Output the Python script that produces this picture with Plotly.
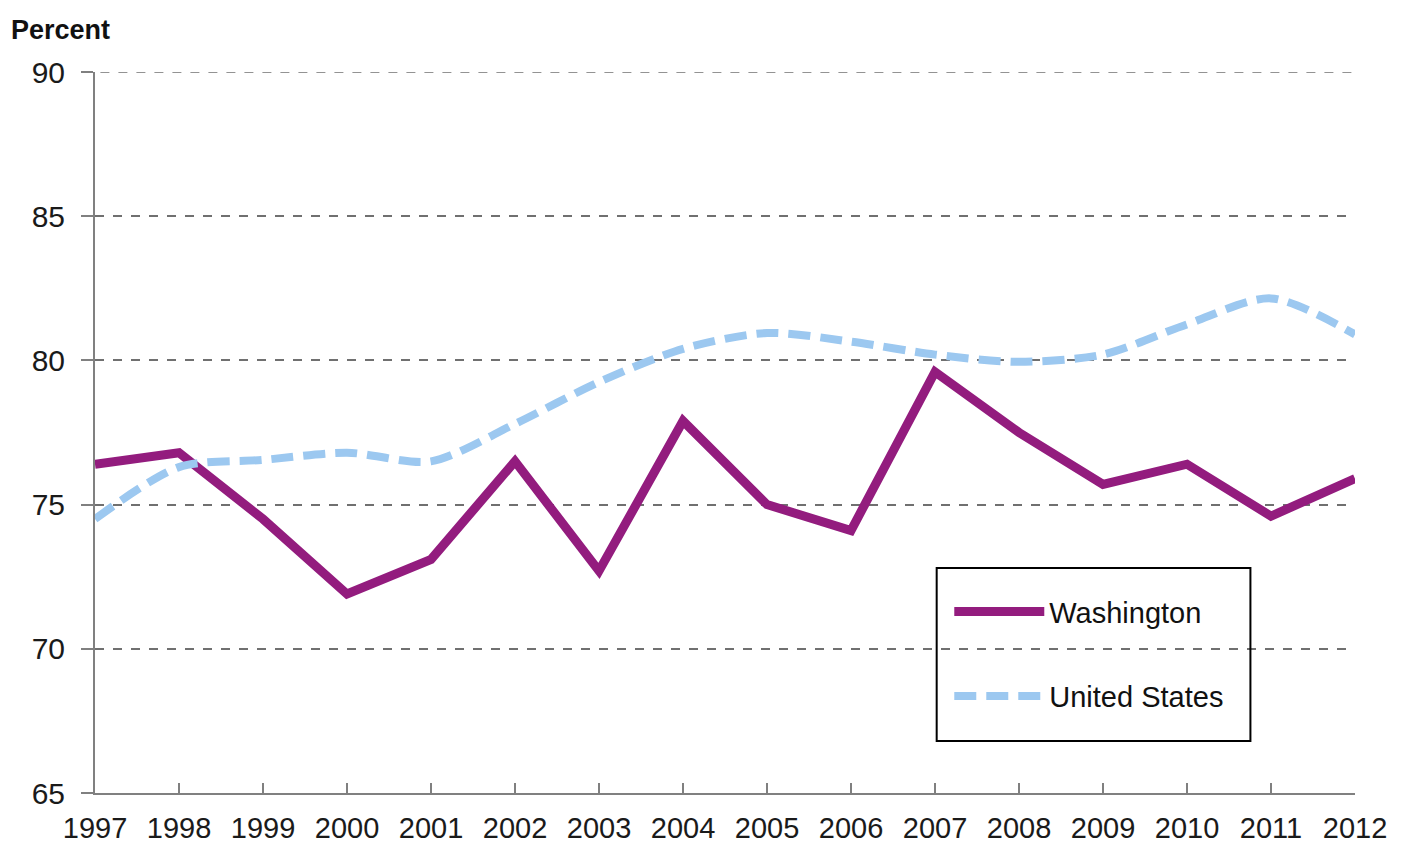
import plotly.graph_objects as go

years = list(range(1997, 2013))
washington = [76.4, 76.8, 74.5, 71.9, 73.1, 76.5, 72.7, 77.9, 75.0, 74.1, 79.6, 77.5, 75.7, 76.4, 74.6, 75.9]
united_states = [74.5, 76.3, 76.55, 76.8, 76.5, 77.8, 79.25, 80.4, 80.95, 80.65, 80.2, 79.95, 80.2, 81.25, 82.15, 80.9]
y_ticks = [65, 70, 75, 80, 85, 90]

FONT = "Liberation Sans"

fig = go.Figure()
fig.add_trace(go.Scatter(
    x=years, y=washington, mode="lines", name="Washington",
    line=dict(color="#931C7E", width=9), legendgroup="wa",
))
fig.add_trace(go.Scatter(
    x=years, y=united_states, mode="lines", name="United States",
    line=dict(color="#9CC8F0", width=8, dash="22px,10px", shape="spline", smoothing=0.8),
    legendgroup="us",
))

fig.update_layout(
    width=1403, height=843,
    margin=dict(l=87, r=56, t=64, b=58, autoexpand=False),
    paper_bgcolor="white", plot_bgcolor="white",
    font=dict(family=FONT, color="#1a1a1a"),
    showlegend=True,
    legend=dict(
        x=0.678, y=0.287, xanchor="left", yanchor="top",
        bgcolor="rgba(0,0,0,0)", borderwidth=0,
        font=dict(family=FONT, size=29, color="#111"),
        traceorder="grouped", tracegroupgap=44, itemwidth=90,
    ),
    shapes=[
        dict(
            type="line", xref="paper", yref="y",
            x0=-0.01, x1=1, y0=y_ticks[-1], y1=y_ticks[-1],
            line=dict(color="#707070", width=1.5, dash="dash"), layer="below",
        ),
        dict(
            type="rect", xref="paper", yref="paper",
            x0=0.668, x1=0.917, y0=0.072, y1=0.312,
            line=dict(color="black", width=2), fillcolor="rgba(0,0,0,0)", layer="above",
        ),
    ],
    annotations=[dict(
        text="<b>Percent</b>", xref="paper", yref="paper",
        x=-0.068, y=1.035, xanchor="left", yanchor="bottom", showarrow=False,
        font=dict(family=FONT, size=27, color="#111"),
    )],
)

fig.update_xaxes(
    range=[1997, 2012], tickmode="array", tickvals=years, ticktext=[str(y) for y in years],
    showgrid=False, zeroline=False, showline=True, linecolor="#808080", linewidth=2,
    ticks="inside", ticklen=10, tickcolor="#808080", tickwidth=2,
    tickfont=dict(family=FONT, size=29, color="#1a1a1a"),
    ticklabelstandoff=8,
)
fig.update_yaxes(
    range=[65, 90], tickmode="array", tickvals=y_ticks,
    showgrid=True, gridcolor="#707070", griddash="dash", gridwidth=1.5,
    zeroline=False, showline=True, linecolor="#808080", linewidth=2,
    ticks="outside", ticklen=12, tickcolor="#808080", tickwidth=2,
    tickfont=dict(family=FONT, size=30, color="#1a1a1a"),
    ticklabelstandoff=10,
)

fig.write_html("out.html")
